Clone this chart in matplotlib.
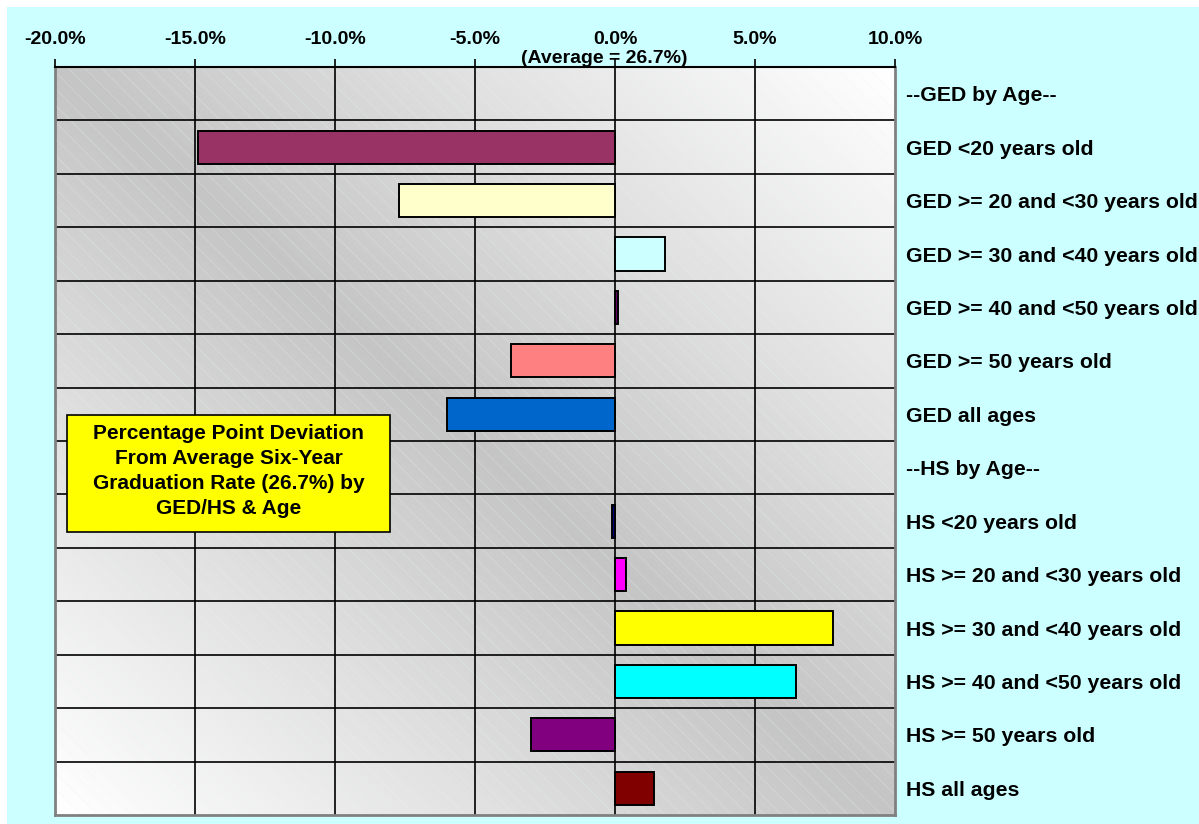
import numpy as np
import matplotlib
matplotlib.use("Agg")
import matplotlib.pyplot as plt
from matplotlib.patches import Rectangle
from matplotlib.ticker import FuncFormatter

plt.rcParams['font.family'] = ['Liberation Sans', 'DejaVu Sans']
plt.rcParams['font.weight'] = 'bold'
plt.rcParams['hatch.linewidth'] = 0.5

# Rows from top to bottom (None = group header, no bar)
labels = [
    "--GED by Age--",
    "GED <20 years old",
    "GED >= 20 and <30 years old",
    "GED >= 30 and <40 years old",
    "GED >= 40 and <50 years old",
    "GED >= 50 years old",
    "GED all ages",
    "--HS by Age--",
    "HS <20 years old",
    "HS >= 20 and <30 years old",
    "HS >= 30 and <40 years old",
    "HS >= 40 and <50 years old",
    "HS >= 50 years old",
    "HS all ages",
]
deviation = [None, -14.9, -7.7, 1.8, 0.1, -3.7, -6.0,
             None, -0.1, 0.4, 7.8, 6.45, -3.0, 1.4]
bar_colors = [None, "#993366", "#FFFFCC", "#CCFFFF", "#660066", "#FF8080", "#0066CC",
              None, "#000080", "#FF00FF", "#FFFF00", "#00FFFF", "#800080", "#800000"]
x_ticks = [-20, -15, -10, -5, 0, 5, 10]

fig = plt.figure(figsize=(11.99, 8.24), dpi=100, facecolor="white")
# cyan chart area (small white margin at top and left)
fig.patches.append(Rectangle((7 / 1199, 0), 1, 1 - 7 / 824, transform=fig.transFigure,
                             facecolor="#CCFFFF", edgecolor="none", zorder=-1))

ax = fig.add_axes([55 / 1199, 1 - 815 / 824, 840 / 1199, 748 / 824])
ax.set_xlim(-20, 10)
ax.set_ylim(len(labels) - 0.5, -0.5)

# gradient background: white at top-right / bottom-left corners, grey along the diagonal
gx, gy = np.meshgrid(np.linspace(0, 1, 300), np.linspace(0, 1, 300))
v = np.abs(gx + gy - 1)
shade = 0.77 + 0.23 * v
ax.imshow(shade, cmap="gray", vmin=0, vmax=1, origin="lower", extent=[0, 1, 0, 1],
          transform=ax.transAxes, aspect="auto", zorder=0)
ax.add_patch(Rectangle((0, 0), 1, 1, transform=ax.transAxes, fill=False,
                       hatch="\\\\", edgecolor=(0.9, 0.97, 0.97, 0.35), lw=0, zorder=0.5))

# grid
for i in range(len(labels) - 1):
    ax.axhline(i + 0.5, color="black", lw=1.2, zorder=1)
for t in x_ticks[1:-1]:
    ax.axvline(t, color="black", lw=1.2, zorder=1)

# bars
idx = [i for i, d in enumerate(deviation) if d is not None]
ax.barh(idx, [deviation[i] for i in idx], height=0.62,
        color=[bar_colors[i] for i in idx], edgecolor="black", linewidth=1.4, zorder=3)

# axes styling
ax.xaxis.tick_top()
ax.set_xticks(x_ticks)
ax.xaxis.set_major_formatter(FuncFormatter(lambda x, p: f"{x:.1f}%"))
ax.tick_params(axis="x", direction="out", length=6, width=1.2, pad=8, labelsize=14)
ax.yaxis.tick_right()
ax.set_yticks(range(len(labels)))
ax.set_yticklabels(labels)
ax.tick_params(axis="y", length=0, pad=8, labelsize=15.3)
for side in ["left", "right", "bottom"]:
    ax.spines[side].set_color("#808080")
    ax.spines[side].set_linewidth(2)
ax.spines["top"].set_color("black")
ax.spines["top"].set_linewidth(1.5)
for s in ax.spines.values():
    s.set_zorder(4)

ax.annotate("(Average = 26.7%)", xy=(0, 1), xycoords=("data", "axes fraction"),
            xytext=(-8, 3), textcoords="offset points", ha="center", va="baseline",
            fontsize=14, fontweight="bold")

# yellow note box
ax.add_patch(Rectangle((12 / 840, (815 - 532) / 748), 323 / 840, 117 / 748,
                       transform=ax.transAxes, facecolor="#FFFF00", edgecolor="black",
                       lw=1.2, zorder=5))
ax.text((228.5 - 55) / 840, (815 - 471) / 748,
        "Percentage Point Deviation\nFrom Average Six-Year\nGraduation Rate (26.7%) by\nGED/HS & Age",
        transform=ax.transAxes, ha="center", va="center", fontsize=15, fontweight="bold",
        linespacing=1.38, zorder=6)

fig.savefig("out.png", dpi=100, facecolor=fig.get_facecolor())
